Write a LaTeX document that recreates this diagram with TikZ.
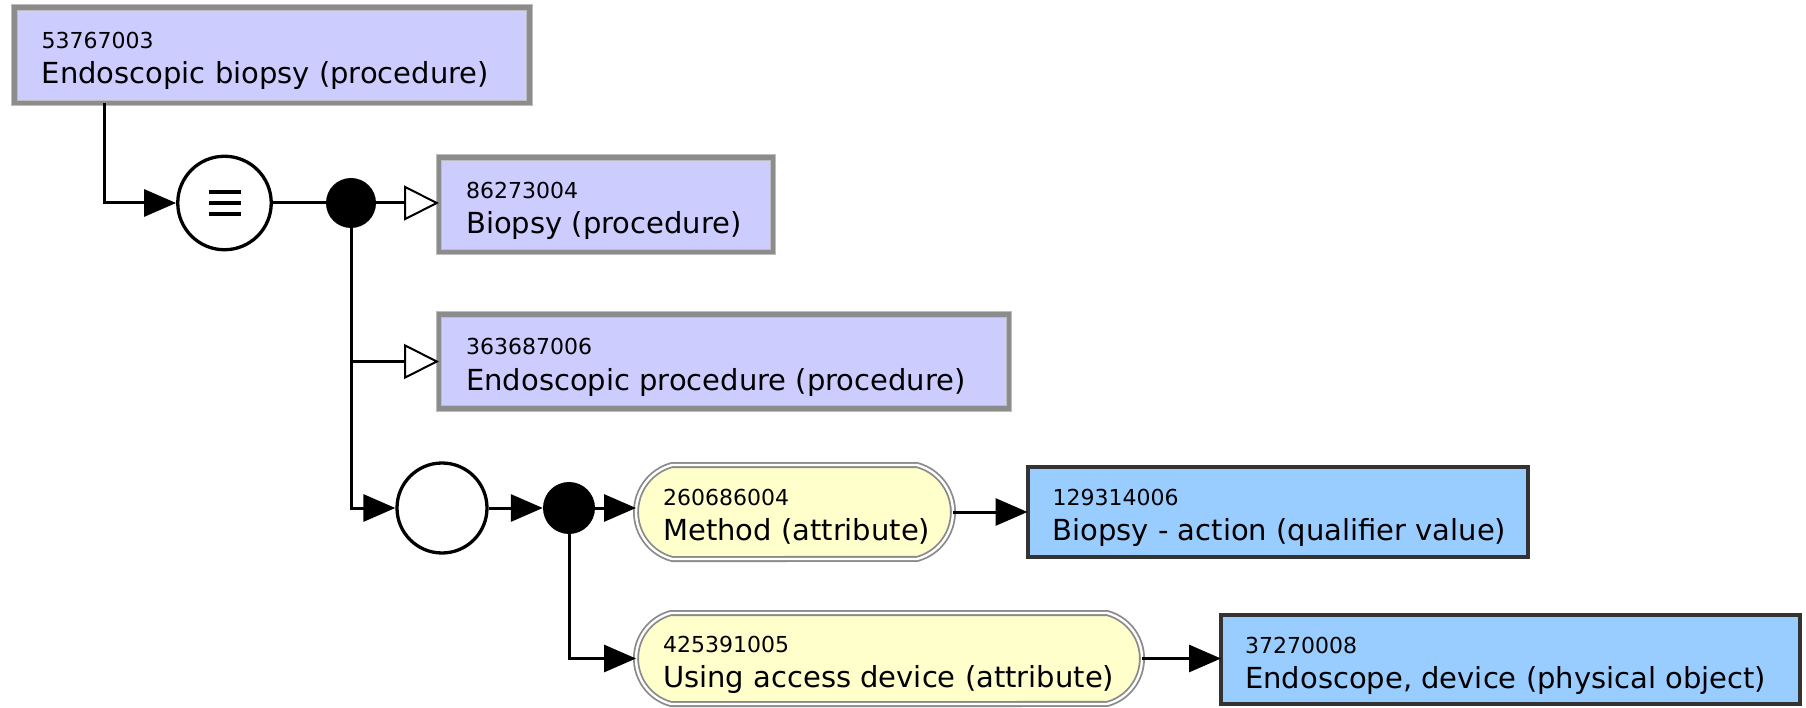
\documentclass[tikz,border=0pt]{standalone}
\usepackage{fontspec}
\setmainfont{DejaVu Sans}
\usetikzlibrary{arrows.meta,shapes.misc,calc}

\definecolor{primfill}{HTML}{CCCCFF}
\definecolor{valuefill}{HTML}{99CCFF}
\definecolor{attrfill}{HTML}{FFFFCC}
\definecolor{primband}{HTML}{8C8C8C}
\definecolor{primedge}{HTML}{BDBDBD}
\definecolor{valueedge}{HTML}{333333}
\definecolor{attredge}{HTML}{8A8A8A}

% id line + description line inside a concept box
\newcommand{\conceptlabel}[4]{%
  \node[idtext]   (#1-id)   at ($(#1.west)+(#2,-6.5)$) {#3};
  \node[nametext] (#1-name) at ($(#1.west)+(#2,28.5)$) {#4};
}

\begin{document}
\begin{tikzpicture}[
  x=1pt, y=-1pt,
  primbox/.style={rectangle, inner sep=0pt, outer sep=0pt, fill=primfill,
    draw=primedge, line width=1pt, double=primband, double distance=4.5pt},
  valuebox/.style={rectangle, inner sep=0pt, outer sep=0pt, fill=valuefill,
    draw=valueedge, line width=4pt},
  attrbox/.style={rounded rectangle, rounded rectangle arc length=150,
    inner sep=0pt, outer sep=0pt, fill=attrfill,
    draw=attredge, line width=1.8pt, double=white, double distance=2.4pt},
  idtext/.style={anchor=base west, inner sep=0pt, text=black,
    font=\fontsize{22}{24}\selectfont},
  nametext/.style={anchor=base west, inner sep=0pt, text=black,
    font=\fontsize{29}{34}\selectfont},
  opcircle/.style={circle, draw=black, fill=white, line width=3.3pt, inner sep=0pt},
  junction/.style={circle, fill=black, inner sep=0pt},
  conn/.style={draw=black, line width=3pt},
  bar/.style={draw=black, line width=4pt},
  solidhead/.style={-{Triangle[length=32pt, width=27pt]}},
  openhead/.style={-{Triangle[open, length=35pt, width=35pt, line width=2pt, fill=white]}},
]
\useasboundingbox (0,0) rectangle (1806,708);

% concept boxes
\node[primbox, minimum width=515pt, minimum height=95.5pt] (A) at (272,55.5) {};
\node[primbox, minimum width=334pt, minimum height=94.5pt] (B) at (606,205) {};
\node[primbox, minimum width=570pt, minimum height=93.5pt] (C) at (724,361.5) {};
\node[attrbox, minimum width=317pt, minimum height=94pt] (M) at (794.5,512) {};
\node[valuebox, minimum width=500pt, minimum height=90pt] (D) at (1277.5,512) {};
\node[attrbox, minimum width=506pt, minimum height=91pt] (U) at (889,658.5) {};
\node[valuebox, minimum width=579pt, minimum height=89pt] (E) at (1510.5,659.5) {};

\conceptlabel{A}{27}{53767003}{Endoscopic biopsy (procedure)}
\conceptlabel{B}{27}{86273004}{Biopsy (procedure)}
\conceptlabel{C}{27}{363687006}{Endoscopic procedure (procedure)}
\conceptlabel{M}{27}{260686004}{Method (attribute)}
\conceptlabel{D}{25}{129314006}{Biopsy - action (qualifier value)}
\conceptlabel{U}{27}{425391005}{Using access device (attribute)}
\conceptlabel{E}{24}{37270008}{Endoscope, device (physical object)}

% definition operator (three bars), conjunctions and attribute group
\node[opcircle, minimum size=93.5pt] (eq) at (224.5,203) {};
\draw[bar] ($(eq)+(-16,-11.3)$) -- ($(eq)+(16,-11.3)$);
\draw[bar] ($(eq)+(-16,0)$) -- ($(eq)+(16,0)$);
\draw[bar] ($(eq)+(-16,11.3)$) -- ($(eq)+(16,11.3)$);
\node[junction, minimum size=50pt] (dot1) at (351,203) {};
\node[opcircle, minimum size=90pt] (grp) at (442,508) {};
\node[junction, minimum size=52pt] (dot2) at (569,508) {};

\coordinate (Aout) at ($(A.south west)+(90,0)$);
\coordinate (jC) at (dot1 |- C.west);

% connectors
\draw[conn, solidhead] (Aout) |- (eq.west);
\draw[conn] (eq.east) -- (dot1);
\draw[conn, openhead] (dot1) -- (dot1 -| B.west);
\draw[conn] (dot1) -- (jC);
\draw[conn, openhead] (jC) -- (C.west);
\draw[conn, solidhead] (jC) |- (grp.west);
\draw[conn, solidhead] (grp.east) -- (dot2.west);
\draw[conn, solidhead] (dot2) -- (dot2 -| M.west);
\draw[conn, solidhead] (M.east) -- (M.east -| D.west);
\draw[conn, solidhead] (dot2) |- (U.west);
\draw[conn, solidhead] (U.east) -- (U.east -| E.west);
\end{tikzpicture}
\end{document}
